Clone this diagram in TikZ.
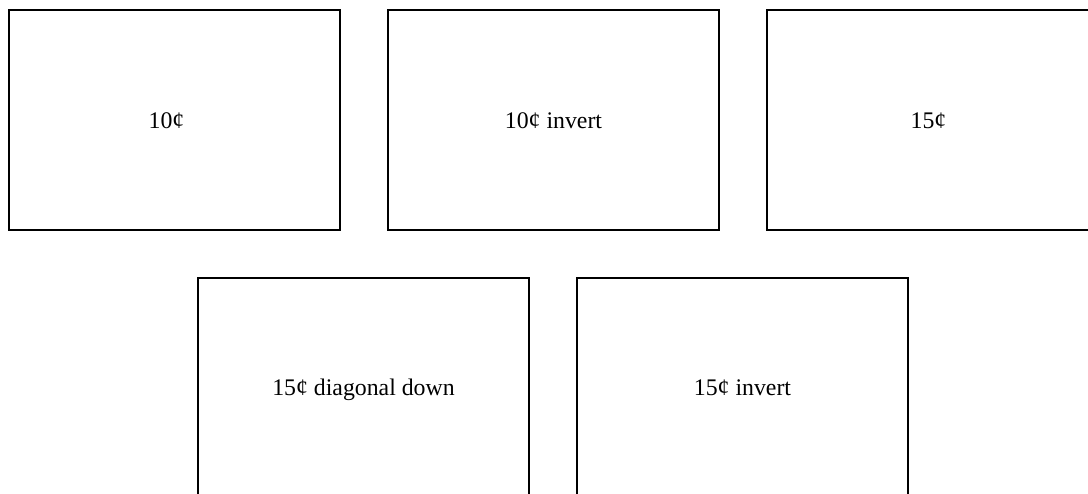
\documentclass[tikz,border=0pt]{standalone}
\usepackage{fontspec}
\setmainfont{Liberation Serif}
\begin{document}
\begin{tikzpicture}[x=1pt,y=1pt,
  coinbox/.style={draw=black,line width=2.2pt,rectangle,minimum width=331pt,minimum height=220pt,inner sep=0pt,fill=none},
  coinlabel/.style={font=\fontsize{23.8}{28}\selectfont,inner sep=0pt,text height=0.68em,text depth=0.2em}]
\useasboundingbox (0,0) rectangle (1088,-494);
\node[coinbox] (b1) at (174.5,-120) {};
\node[coinbox] (b2) at (553.5,-120) {};
\node[coinbox] (b3) at (932.5,-120) {};
\node[coinbox] (b4) at (363.5,-388) {};
\node[coinbox] (b5) at (742.5,-388) {};
\node[coinlabel] (t1) at ([xshift=-8pt,yshift=-6pt]b1.center) {10¢};
\node[coinlabel] (t2) at ([yshift=-6pt]b2.center) {10¢ invert};
\node[coinlabel] (t3) at ([xshift=-4pt,yshift=-6pt]b3.center) {15¢};
\node[coinlabel] (t4) at ([yshift=-5pt]b4.center) {15¢ diagonal down};
\node[coinlabel] (t5) at ([yshift=-5pt]b5.center) {15¢ invert};
\end{tikzpicture}
\end{document}
